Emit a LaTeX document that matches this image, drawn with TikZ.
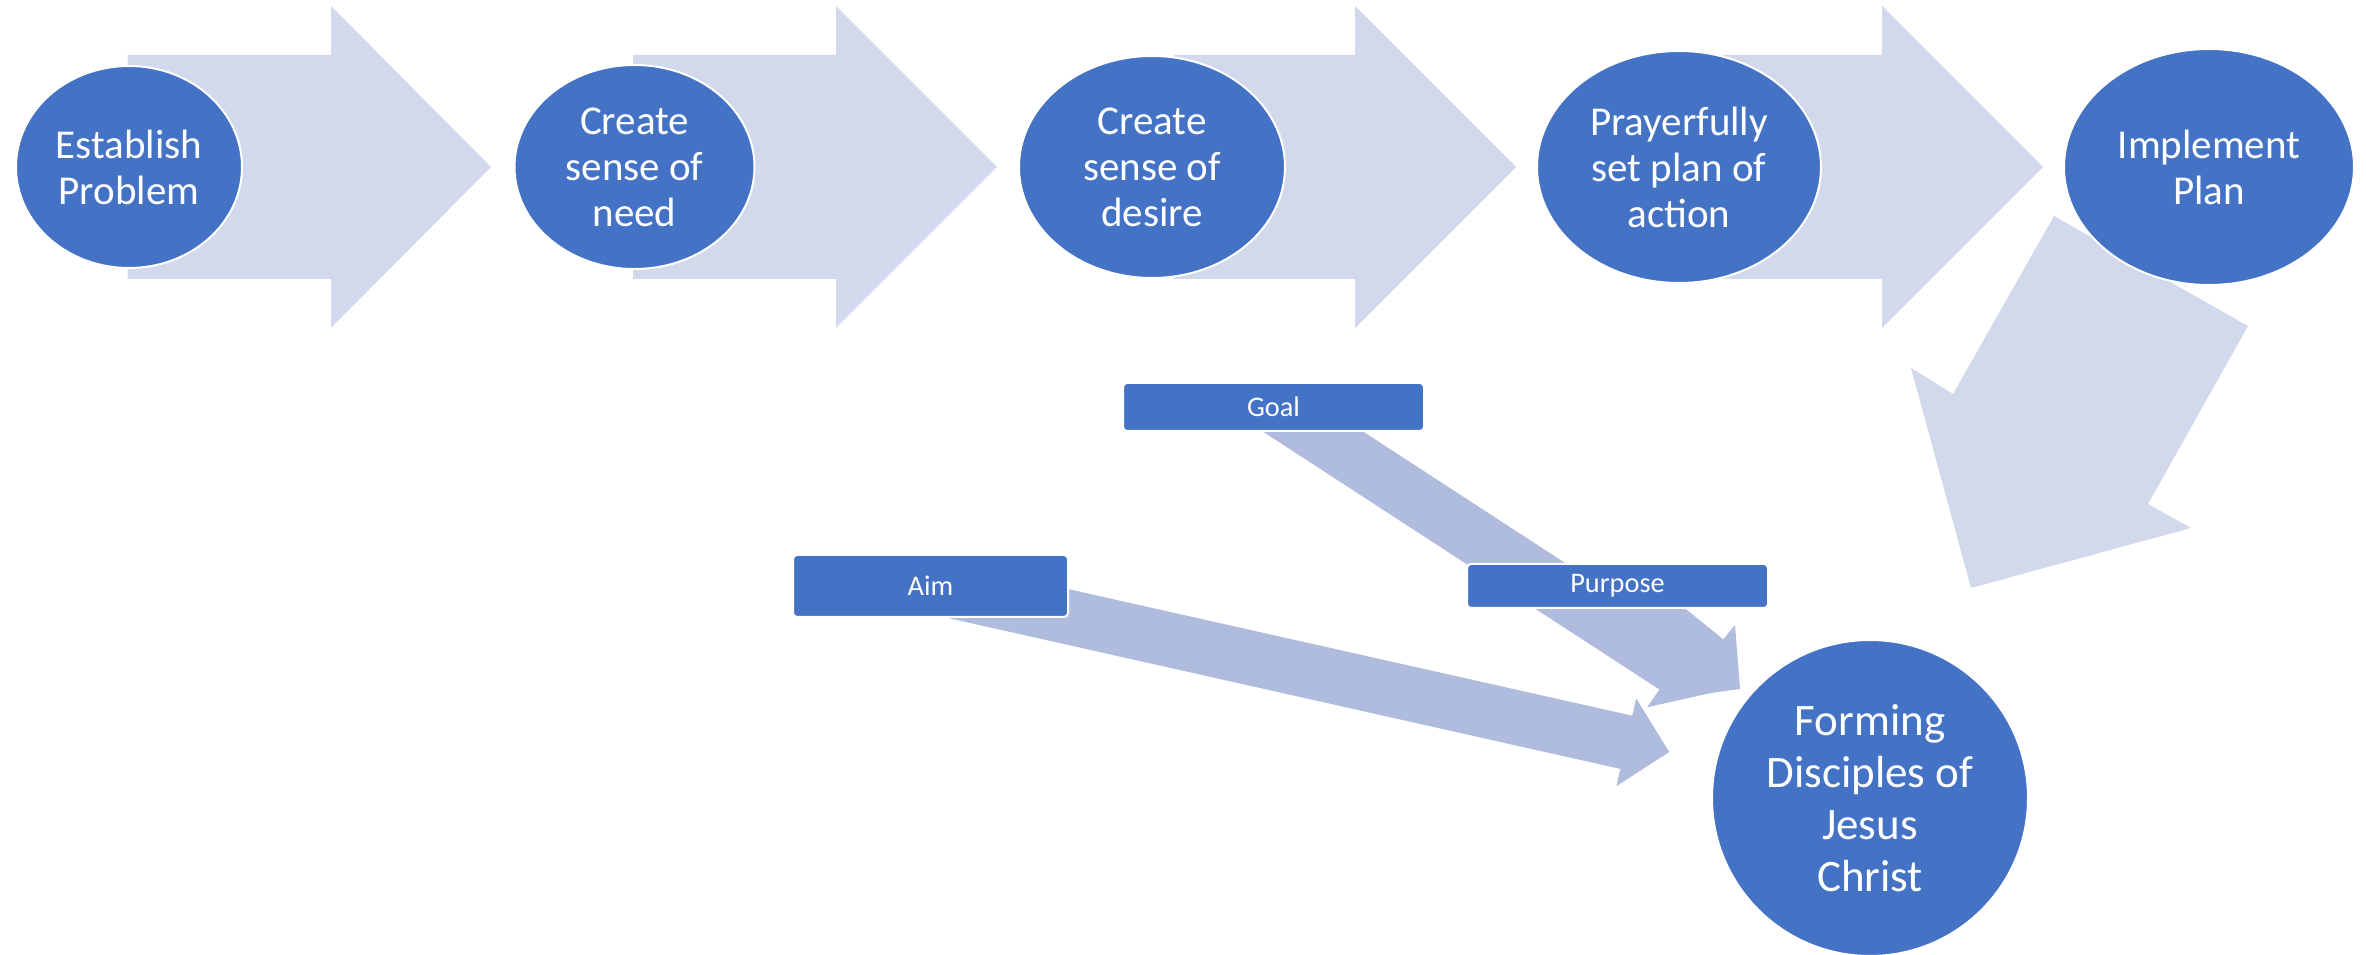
\documentclass[tikz,border=0pt]{standalone}
\usepackage{fontspec}
\setmainfont{Carlito}
\usetikzlibrary{shapes.geometric}
\definecolor{cblue}{RGB}{68,114,196}
\definecolor{lightarr}{RGB}{210,217,236}
\definecolor{midarr}{RGB}{175,188,222}
\begin{document}
\begin{tikzpicture}[x=0.3pt,y=-0.3pt,
  circ/.style={ellipse, fill=cblue, draw=white, line width=0.6pt, inner sep=0pt,
    text=white, align=center, font=\fontsize{12.3pt}{13.8pt}\selectfont},
  bigcirc/.style={circ, font=\fontsize{13.5pt}{15.6pt}\selectfont},
  lab/.style={rectangle, rounded corners=1.2pt, fill=cblue, draw=white, line width=0.6pt,
    text=white, inner sep=0pt, font=\fontsize{8.5pt}{10pt}\selectfont},
  toparr/.style={fill=lightarr},
  lowarr/.style={fill=midarr}]
\useasboundingbox (0,0) rectangle (2366,955);
% top row block arrows
\newcommand\toparrow[3]{\fill[toparr] (#1,55) -- (#2,55) -- (#2,6) -- (#3,167) -- (#2,328) -- (#2,279) -- (#1,279) -- cycle;}
\toparrow{127.5}{331}{491}
\toparrow{633}{836}{997}
\toparrow{1174}{1355}{1516}
\toparrow{1723}{1882}{2043}
% down-left arrow from Implement Plan
\fill[toparr] (2054,216) -- (2248,326) -- (2148,504) -- (2191,528) -- (1971,588) -- (1911,368) -- (1953,394) -- cycle;
% Goal arrow
\fill[lowarr] (1252.7,425) -- (1353,425) -- (1688.8,643.4) -- (1700.5,625.4) -- (1713.8,692.3) -- (1647.3,707.2) -- (1659.4,689.5) -- cycle;
% Purpose arrow
\fill[lowarr] (1584.7,600) -- (1674.6,600) -- (1723.3,639.3) -- (1735,625) -- (1740,689) -- (1676.4,697.5) -- (1687.9,683.2) -- cycle;
% Aim arrow
\fill[lowarr] (936,559.4) -- (1632.3,715.7) -- (1636.2,698.4) -- (1669.2,752) -- (1616.4,786.2) -- (1620.3,768.9) -- (924,612.6) -- cycle;
% circles
\node[circ, minimum width=67.8pt, minimum height=60.6pt] (c1) at (129,167) {Establish\\Problem};
\node[circ, minimum width=72pt, minimum height=61.2pt] (c2) at (634.5,167) {Create\\sense of\\need};
\node[circ, minimum width=79.8pt, minimum height=66.6pt] (c3) at (1152,167) {Create\\sense of\\desire};
\node[circ, minimum width=85.2pt, minimum height=69.6pt] (c4) at (1679,167) {Prayerfully\\set plan of\\action};
\node[circ, minimum width=87pt, minimum height=70.8pt] (c5) at (2209,167) {Implement\\Plan};
\node[bigcirc, minimum width=94.8pt, minimum height=94.8pt] (form) at (1870,798) {Forming\\Disciples of\\Jesus\\Christ};
% labels
\node[lab, minimum width=90.3pt, minimum height=14.4pt] (goal) at (1273.5,407) {Goal};
\node[lab, minimum width=82.5pt, minimum height=18.6pt] (aim) at (930.5,586) {Aim};
\node[lab, minimum width=90.3pt, minimum height=13.2pt] (purpose) at (1617.5,586) {Purpose};
\end{tikzpicture}
\end{document}
